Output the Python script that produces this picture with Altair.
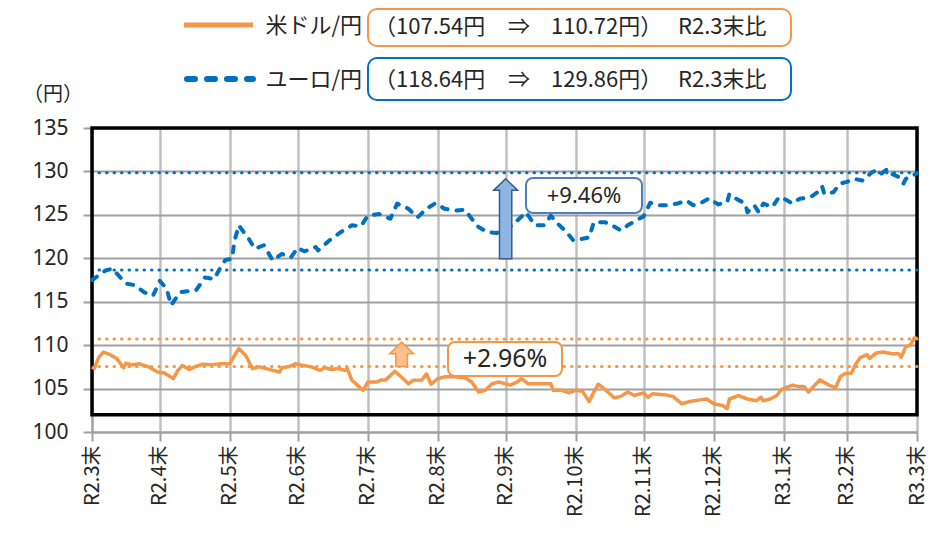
import altair as alt
import pandas as pd

# ---------------- data ----------------
# days after R2.3末 (2020-03-31)
eur_days = [0, 6, 9, 15, 19, 23, 27, 30, 33, 35, 39, 46, 50, 54, 57, 59, 62, 63, 65, 66, 69, 72, 76, 80, 84, 88,
            91, 94, 99, 100, 105, 110, 115, 119, 122, 127, 132, 135, 140, 144, 148, 152, 156, 161, 165, 168, 171,
            175, 179, 186, 189, 192, 196, 200, 203, 206, 210, 213, 217, 220, 222, 227, 230, 234, 237, 242, 244,
            247, 250, 254, 259, 263, 266, 270, 273, 277, 281, 282, 285, 289, 290, 293, 295, 297, 301, 304, 307,
            310, 313, 318, 321, 323, 324, 328, 331, 334, 337, 341, 345, 347, 349, 352, 354, 357, 359, 360, 362, 365]
eur_vals = [117.5, 118.6, 118.8, 117.1, 116.9, 116.1, 115.7, 117.4, 116.5, 114.6, 116.1, 116.3, 117.8, 117.6,
            119.0, 119.8, 119.95, 122.0, 123.8, 123.4, 122.4, 121.1, 121.5, 119.75, 120.5, 120.1, 121.2, 120.8,
            121.3, 120.9, 122.05, 123.0, 123.8, 123.7, 124.9, 125.1, 124.55, 126.3, 125.7, 124.7, 125.7, 126.35,
            125.7, 125.5, 125.6, 124.55, 123.6, 123.0, 122.9, 123.8, 124.55, 125.3, 123.8, 123.8, 124.9, 124.0,
            123.0, 122.05, 122.25, 122.4, 124.15, 124.15, 123.8, 123.2, 123.8, 124.55, 124.8, 126.4, 126.1, 126.1,
            126.3, 126.65, 126.1, 126.45, 126.9, 126.2, 126.45, 127.4, 126.85, 126.3, 125.3, 126.1, 125.3, 126.3,
            125.9, 127.05, 126.75, 126.3, 126.85, 127.05, 127.6, 128.3, 127.4, 127.6, 128.6, 128.8, 129.15, 128.95,
            129.9, 130.1, 129.7, 130.3, 129.7, 129.35, 128.6, 129.15, 129.35, 129.8]

usd_days = [0, 1, 3, 5, 8, 11, 14, 15, 18, 21, 25, 29, 32, 36, 38, 40, 43, 46, 49, 53, 57, 61, 63, 65, 68, 71,
            74, 77, 80, 83, 84, 87, 90, 93, 97, 101, 103, 106, 109, 112, 113, 115, 118, 120, 122, 126, 128, 130,
            134, 137, 140, 142, 146, 148, 150, 153, 156, 159, 165, 168, 171, 174, 177, 180, 185, 188, 190, 193,
            197, 203, 204, 208, 211, 214, 217, 220, 222, 224, 227, 231, 234, 237, 240, 244, 246, 248, 253, 257,
            261, 265, 269, 272, 275, 279, 281, 282, 286, 290, 294, 296, 297, 300, 303, 305, 310, 313, 315, 317,
            322, 326, 329, 331, 333, 336, 338, 340, 343, 344, 347, 350, 354, 357, 358, 360, 362, 364, 365]
usd_vals = [107.5, 107.3, 108.6, 109.2, 108.9, 108.45, 107.4, 107.9, 107.75, 107.85, 107.5, 106.9, 106.8, 106.15,
            107.1, 107.67, 107.2, 107.55, 107.8, 107.75, 107.85, 107.85, 108.8, 109.6, 108.8, 107.3, 107.5, 107.3,
            107.1, 106.9, 107.4, 107.5, 107.85, 107.67, 107.5, 107.1, 107.4, 107.2, 107.3, 107.1, 107.3, 105.95,
            105.25, 104.8, 105.75, 105.75, 106.0, 106.0, 107.0, 106.3, 105.55, 105.95, 106.0, 106.7, 105.5, 106.15,
            106.35, 106.4, 106.25, 105.75, 104.6, 104.8, 105.55, 105.75, 105.4, 105.75, 106.15, 105.55, 105.55,
            105.55, 104.8, 104.8, 104.5, 104.8, 104.7, 103.5, 104.6, 105.5, 104.9, 103.95, 104.1, 104.6, 104.2,
            104.5, 104.0, 104.4, 104.3, 104.1, 103.25, 103.55, 103.7, 103.8, 103.25, 103.05, 102.7, 103.8, 104.2,
            103.8, 103.6, 104.0, 103.6, 103.8, 104.2, 104.9, 105.4, 105.2, 105.25, 104.6, 106.0, 105.4, 105.1,
            106.35, 106.7, 106.8, 107.85, 108.6, 108.9, 108.45, 109.1, 109.2, 109.0, 109.0, 108.6, 109.8, 110.0,
            110.9, 110.72]

month_ends = ["2020-03-31", "2020-04-30", "2020-05-31", "2020-06-30", "2020-07-31", "2020-08-31", "2020-09-30",
              "2020-10-31", "2020-11-30", "2020-12-31", "2021-01-31", "2021-02-28", "2021-03-31"]
month_labels = ["R2.3末", "R2.4末", "R2.5末", "R2.6末", "R2.7末", "R2.8末", "R2.9末",
                "R2.10末", "R2.11末", "R2.12末", "R3.1末", "R3.2末", "R3.3末"]

usd_ref = [107.54, 110.72]
eur_ref = [118.64, 129.86]
legend_names = ["米ドル/円", "ユーロ/円"]
# legend note pieces: (start, arrow, end, suffix)
usd_note = ["（107.54円", "⇒", "110.72円）", "R2.3末比"]
eur_note = ["（118.64円", "⇒", "129.86円）", "R2.3末比"]
change_labels = ["+2.96%", "+9.46%"]

ORANGE = "#F79646"
BLUE = "#0070C0"
TXT = "#262626"
JP = "Noto Sans CJK JP"

base_date = pd.Timestamp("2020-03-31")
usd_df = pd.DataFrame({"date": base_date + pd.to_timedelta(usd_days, unit="D"), "value": usd_vals})
eur_df = pd.DataFrame({"date": base_date + pd.to_timedelta(eur_days, unit="D"), "value": eur_vals})

def dt(s):
    y, m, d = (int(p) for p in s.split("-"))
    return alt.DateTime(year=y, month=m, date=d)

label_expr = "''"
for d, lab in reversed(list(zip(month_ends, month_labels))):
    label_expr = f"timeFormat(datum.value, '%Y-%m-%d') == '{d}' ? '{lab}' : ({label_expr})"

x_scale = alt.Scale(domain=[dt(month_ends[0]), dt(month_ends[-1])], nice=False, padding=0)
y_scale = alt.Scale(domain=[100, 135], nice=False, zero=False)

x_axis = alt.Axis(values=[dt(d) for d in month_ends], labelExpr=label_expr, labelAngle=270,
                  labelAlign="right", labelBaseline="middle", labelFont=JP, labelFontSize=20,
                  labelColor=TXT, labelPadding=4, tickSize=9, tickColor="#A0A0A0", tickWidth=2,
                  domainColor="#A0A0A0", domainWidth=2, gridColor="#C0C0C0", gridWidth=2.5,
                  title=None, labelOverlap=False)
y_axis = alt.Axis(values=list(range(100, 136, 5)), labelFont="Noto Sans", labelFontSize=21,
                  labelColor=TXT, labelPadding=15, tickSize=9, tickColor="#A0A0A0", tickWidth=2,
                  domainColor="#A0A0A0", domainWidth=2, gridColor="#A0A0A0", gridWidth=2,
                  title=None)

X = alt.X("date:T", scale=x_scale, axis=x_axis)
Y = alt.Y("value:Q", scale=y_scale, axis=y_axis)

usd_line = alt.Chart(usd_df).mark_line(color=ORANGE, strokeWidth=3.5, strokeJoin="round").encode(x=X, y=Y)
eur_line = alt.Chart(eur_df).mark_line(color=BLUE, strokeWidth=4, strokeDash=[6, 9], strokeCap="round",
                                        strokeJoin="round").encode(x=X, y=Y)

ref_usd = alt.Chart(pd.DataFrame({"y": usd_ref})).mark_rule(
    color=ORANGE, strokeWidth=3, strokeDash=[0.5, 7], strokeCap="round").encode(y=alt.Y("y:Q", scale=y_scale))
ref_eur = alt.Chart(pd.DataFrame({"y": eur_ref})).mark_rule(
    color=BLUE, strokeWidth=3, strokeDash=[0.5, 7], strokeCap="round").encode(y=alt.Y("y:Q", scale=y_scale))

frame_df = pd.DataFrame({"x": [base_date], "x2": [base_date + pd.Timedelta(days=365)], "y": [135], "y2": [102]})
frame = alt.Chart(frame_df).mark_rect(fillOpacity=0, stroke="black", strokeWidth=3.5).encode(
    x=alt.X("x:T", scale=x_scale), x2="x2:T", y=alt.Y("y:Q", scale=y_scale), y2="y2:Q")

# arrows (annotation shapes)
blue_arrow_path = "M0,-1 L0.3,-0.71 L0.154,-0.71 L0.154,1 L-0.154,1 L-0.154,-0.71 L-0.3,-0.71 Z"
orange_arrow_path = "M0,-1 L0.99,-0.05 L0.48,-0.05 L0.48,1 L-0.48,1 L-0.48,-0.05 L-0.99,-0.05 Z"
blue_arrow = alt.Chart(pd.DataFrame({"date": [pd.Timestamp("2020-09-30")], "v": [124.55]})).mark_point(
    shape=blue_arrow_path, size=6400, filled=True, fill="#8EB4E3", stroke="#385D8A", strokeWidth=1.5,
    opacity=1, fillOpacity=1).encode(x=alt.X("date:T", scale=x_scale), y=alt.Y("v:Q", scale=y_scale))
orange_arrow = alt.Chart(pd.DataFrame({"date": [pd.Timestamp("2020-08-15")], "v": [108.95]})).mark_point(
    shape=orange_arrow_path, size=590, filled=True, fill="#FAC090", stroke=ORANGE, strokeWidth=1.5,
    opacity=1, fillOpacity=1).encode(x=alt.X("date:T", scale=x_scale), y=alt.Y("v:Q", scale=y_scale))

one = pd.DataFrame({"a": [0]})

def box(x1, x2, y1, y2, color, r=8, w=2):
    return alt.Chart(one).mark_rect(fill="white", stroke=color, strokeWidth=w, cornerRadius=r).encode(
        x=alt.value(x1), x2=alt.value(x2), y=alt.value(y1), y2=alt.value(y2))

def text(t, x, y, size, font=JP, align="center", color=TXT):
    return alt.Chart(one).mark_text(text=t, font=font, fontSize=size, align=align, baseline="middle",
                                    color=color).encode(x=alt.value(x), y=alt.value(y))

# in-plot change boxes
box_eur = box(434, 550, 50, 85, "#4F81BD", r=7)
txt_eur = text(change_labels[1], 492, 68, 22, font="Noto Sans")
box_usd = box(356, 470, 214, 248, ORANGE, r=7)
txt_usd = text(change_labels[0], 413, 231, 25, font="Noto Sans")

# legend (top)
leg_line_usd = alt.Chart(one).mark_rule(color=ORANGE, strokeWidth=5).encode(
    x=alt.value(92), x2=alt.value(161), y=alt.value(-103))
leg_line_eur = alt.Chart(one).mark_rule(color=BLUE, strokeWidth=6, strokeDash=[8, 12], strokeCap="round").encode(
    x=alt.value(95), x2=alt.value(161), y=alt.value(-49))
leg_name_usd = text(legend_names[0], 270, -102, 22, align="right")
leg_name_eur = text(legend_names[1], 270, -48, 22, align="right")
leg_box_usd = box(276, 699, -119, -82, ORANGE, r=9)
leg_box_eur = box(276, 699, -70, -28, BLUE, r=9)

def note(pieces, y):
    xs = [282, 427, 459, 586]
    aligns = ["left", "center", "left", "left"]
    return [text(p, x, y, 22, align=a) for p, x, a in zip(pieces, xs, aligns)]

leg_txt = note(usd_note, -101) + note(eur_note, -48)
unit_txt = text("（円）", -39, -33, 20)

chart = alt.layer(
    frame, ref_eur, ref_usd, usd_line, eur_line, blue_arrow, orange_arrow,
    box_eur, txt_eur, box_usd, txt_usd,
    leg_line_usd, leg_line_eur, leg_name_usd, leg_name_eur, leg_box_usd, leg_box_eur,
    *leg_txt, unit_txt
).properties(
    width=825, height=304,
    autosize=alt.AutoSizeParams(type="none"),
    padding={"left": 84, "top": 120, "right": 20, "bottom": 93}
).configure_view(stroke=None).configure(background="white")

chart.save("out.html", embed_options={"renderer": "svg", "actions": False})
